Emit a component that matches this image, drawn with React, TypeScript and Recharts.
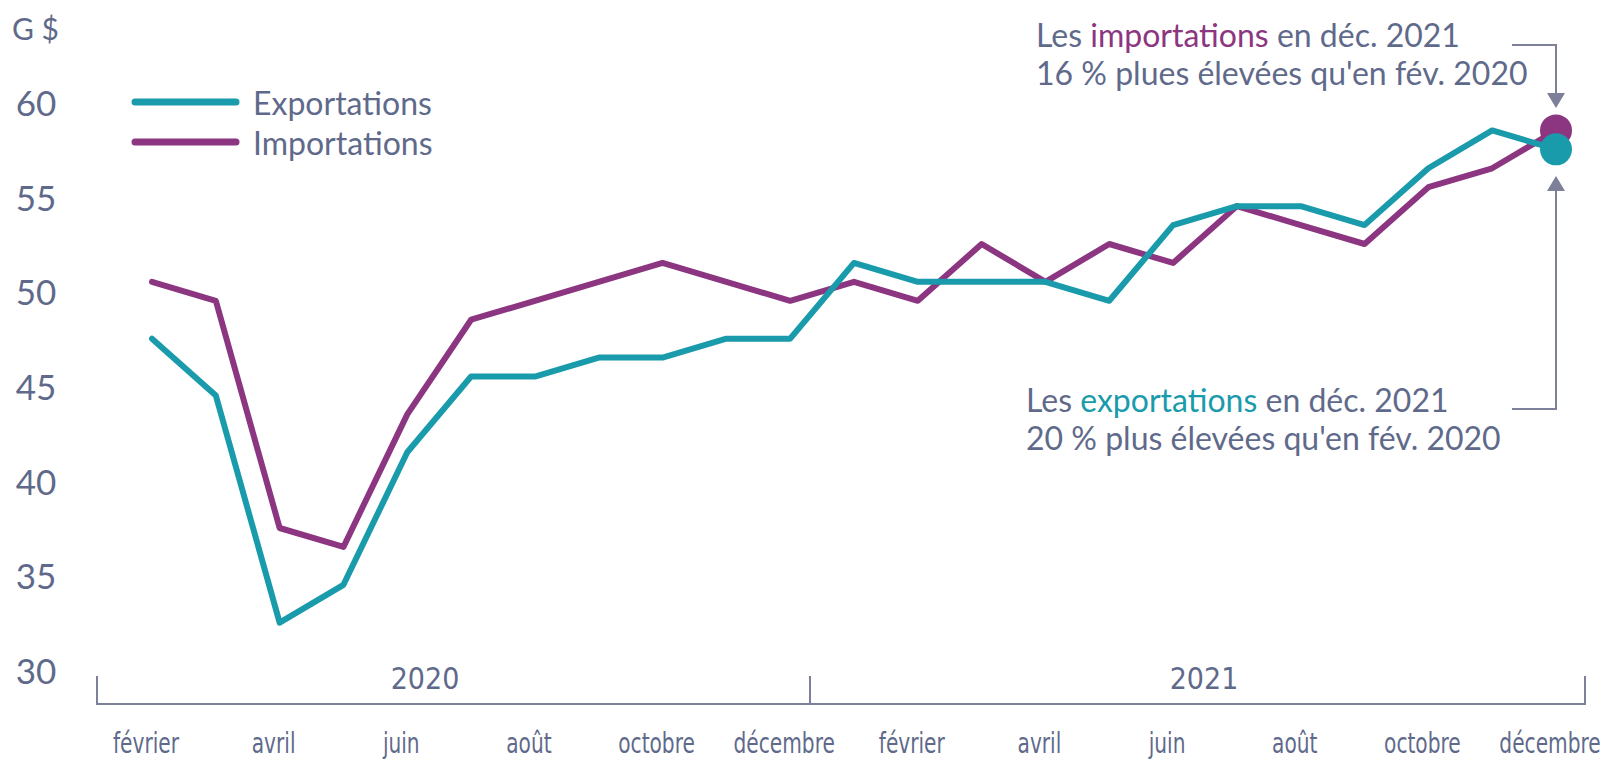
import { LineChart, Line, XAxis, YAxis } from 'recharts';

const months = [
    'février', 'mars', 'avril', 'mai', 'juin', 'juillet', 'août', 'septembre', 'octobre', 'novembre', 'décembre',
    'janvier', 'février', 'mars', 'avril', 'mai', 'juin', 'juillet', 'août', 'septembre', 'octobre', 'novembre', 'décembre',
];
const years = ['2020', '2020', '2020', '2020', '2020', '2020', '2020', '2020', '2020', '2020', '2020',
    '2021', '2021', '2021', '2021', '2021', '2021', '2021', '2021', '2021', '2021', '2021', '2021'];
const exportations = [47.5, 44.5, 32.5, 34.5, 41.5, 45.5, 45.5, 46.5, 46.5, 47.5, 47.5,
    51.5, 50.5, 50.5, 50.5, 49.5, 53.5, 54.5, 54.5, 53.5, 56.5, 58.5, 57.5];
const importations = [50.5, 49.5, 37.5, 36.5, 43.5, 48.5, 49.5, 50.5, 51.5, 50.5, 49.5,
    50.5, 49.5, 52.5, 50.5, 52.5, 51.5, 54.5, 53.5, 52.5, 55.5, 56.5, 58.5];
const yTicks = [30, 35, 40, 45, 50, 55, 60];

const TEAL = '#1a9bab';
const PURPLE = '#8c3580';
const GREY = '#5f6a8b';
const ARROW = '#7c8199';
const FONT = 'Lato, "Open Sans", sans-serif';
const NARROW = '"Liberation Sans Narrow", "DejaVu Sans Condensed", sans-serif';

const data = months.map((m, i) => ({
    key: `${years[i]}-${i}`,
    month: m,
    exportations: exportations[i],
    importations: importations[i],
}));

const last = data.length - 1;

const YTick = ({ y, payload }: any) => (
    <text x={36} y={y} textAnchor="middle" dominantBaseline="central" fill={GREY} fontSize={35} fontFamily={FONT}>
        {payload.value}
    </text>
);

// month labels are tall and condensed in the original
const XTick = ({ x, y, payload, index }: any) => (
    <g transform={`translate(${x - 6},${y + 75}) scale(0.8,1)`}>
        <text x={0} y={0} textAnchor="middle" fill={GREY} fontSize={28} fontFamily={NARROW}>
            {data[payload.index ?? index]?.month}
        </text>
    </g>
);

const endDot = (color: string) => (props: any) => {
    if (props.index !== last) return <g key={`d-${props.index}`} />;
    return <circle key={`d-${props.index}`} cx={props.cx} cy={props.cy} r={16} fill={color} />;
};

const legendItems = [
    { name: 'Exportations', color: TEAL },
    { name: 'Importations', color: PURPLE },
];

export default function App() {
    return (
        <div style={{ position: 'absolute', left: 0, top: 0, width: 1604, height: 762, background: '#fff' }}>
            <LineChart width={1604} height={762} data={data} margin={{ top: 102, right: 48, left: 0, bottom: 0 }}>
                <YAxis
                    domain={[30, 60]}
                    ticks={yTicks}
                    width={152}
                    axisLine={false}
                    tickLine={false}
                    tick={<YTick />}
                    interval={0}
                />
                <XAxis
                    dataKey="key"
                    height={92}
                    axisLine={false}
                    tickLine={false}
                    interval={1}
                    tick={<XTick />}
                />
                <Line
                    type="linear"
                    dataKey="importations"
                    stroke={PURPLE}
                    strokeWidth={6}
                    strokeLinecap="round"
                    strokeLinejoin="round"
                    dot={endDot(PURPLE)}
                    activeDot={false}
                    isAnimationActive={false}
                />
                <Line
                    type="linear"
                    dataKey="exportations"
                    stroke={TEAL}
                    strokeWidth={6}
                    strokeLinecap="round"
                    strokeLinejoin="round"
                    dot={endDot(TEAL)}
                    activeDot={false}
                    isAnimationActive={false}
                />
            </LineChart>
            <svg
                width={1604}
                height={762}
                style={{ position: 'absolute', left: 0, top: 0, pointerEvents: 'none' }}
            >
                <text x={12} y={40} fill={GREY} fontSize={30} fontFamily={FONT}>G $</text>

                {/* legend */}
                {legendItems.map((it, i) => (
                    <g key={it.name}>
                        <line x1={135} y1={102 + i * 40} x2={236} y2={102 + i * 40} stroke={it.color} strokeWidth={7} strokeLinecap="round" />
                        <text x={253} y={102 + i * 40} dominantBaseline="central" fill={GREY} fontSize={32} fontFamily={FONT}>
                            {it.name}
                        </text>
                    </g>
                ))}

                {/* year bracket */}
                <polyline points="97,676 97,704 1585,704 1585,676" fill="none" stroke={ARROW} strokeWidth={2} />
                <line x1={810} y1={676} x2={810} y2={704} stroke={ARROW} strokeWidth={2} />
                <text x={425} y={689} textAnchor="middle" fill={GREY} fontSize={30} fontFamily={NARROW}>2020</text>
                <text x={1204} y={689} textAnchor="middle" fill={GREY} fontSize={30} fontFamily={NARROW}>2021</text>

                {/* annotations */}
                <text x={1036} y={47} fill={GREY} fontSize={32} fontFamily={FONT}>
                    Les <tspan fill={PURPLE}>importations</tspan> en déc. 2021
                </text>
                <text x={1036} y={85} fill={GREY} fontSize={32} fontFamily={FONT}>
                    16 % plues élevées qu'en fév. 2020
                </text>
                <polyline points="1512,45 1556,45 1556,96" fill="none" stroke={ARROW} strokeWidth={2} />
                <polygon points="1547,93 1565,93 1556,108" fill={ARROW} />

                <text x={1026} y={412} fill={GREY} fontSize={32} fontFamily={FONT}>
                    Les <tspan fill={TEAL}>exportations</tspan> en déc. 2021
                </text>
                <text x={1026} y={450} fill={GREY} fontSize={32} fontFamily={FONT}>
                    20 % plus élevées qu'en fév. 2020
                </text>
                <polyline points="1512,409 1556,409 1556,188" fill="none" stroke={ARROW} strokeWidth={2} />
                <polygon points="1547,191 1565,191 1556,176" fill={ARROW} />
            </svg>
        </div>
    );
}
